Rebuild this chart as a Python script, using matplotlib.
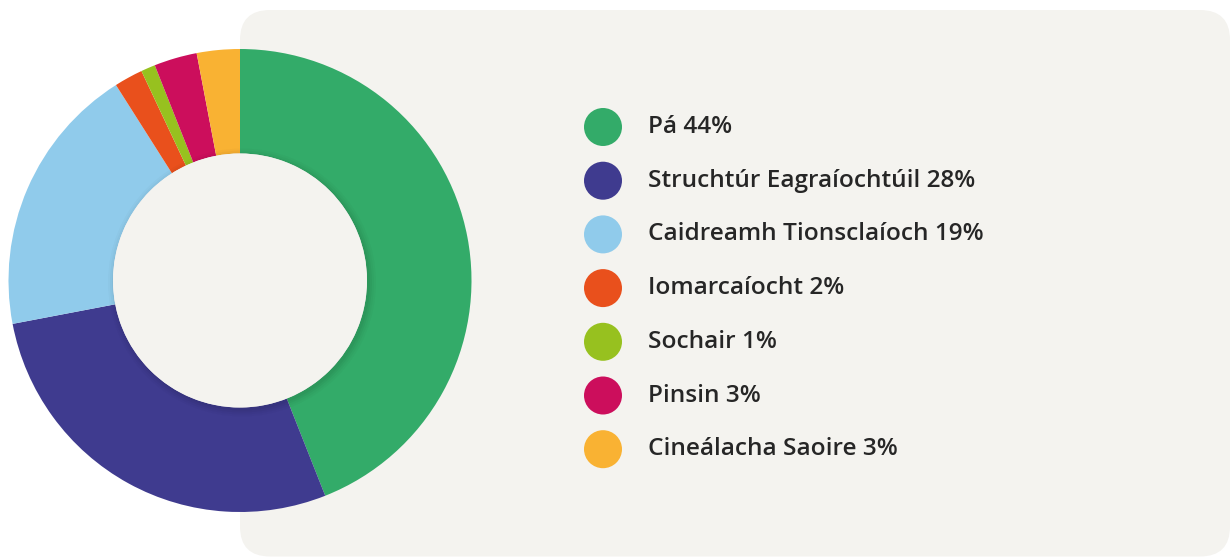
import matplotlib
matplotlib.use("Agg")
import matplotlib.pyplot as plt
from matplotlib.patches import FancyBboxPatch, Circle

# data
labels = ["Pá", "Struchtúr Eagraíochtúil", "Caidreamh Tionsclaíoch",
          "Iomarcaíocht", "Sochair", "Pinsin", "Cineálacha Saoire"]
values = [44, 28, 19, 2, 1, 3, 3]
colors = ["#33ab69", "#3f3b8f", "#90cbeb", "#e9501c", "#97c11f", "#cc0e5c", "#f9b233"]

W, H = 1231, 558
bg = "#f4f3ef"

fig = plt.figure(figsize=(W / 100, H / 100), dpi=100)
ax = fig.add_axes([0, 0, 1, 1])

# panel behind the legend
panel = FancyBboxPatch((240, 1.5), 990, 546.5,
                       boxstyle="round,pad=0,rounding_size=30",
                       fc=bg, ec="none", zorder=0)
ax.add_patch(panel)

# donut
cx, cy = 240, H - 280.5
r_out, r_in = 231.5, 127
ax.pie(values, colors=colors, startangle=90, counterclock=False,
       center=(cx, cy), radius=r_out, frame=True,
       wedgeprops=dict(width=r_out - r_in, linewidth=0))

# soft shadow of the hole onto the ring
for i, a in enumerate([0.02, 0.025, 0.03, 0.035]):
    ax.add_patch(Circle((cx + 2, cy - 2), r_in + 7 - 2 * i, fc="black",
                        ec="none", alpha=a, zorder=3))
ax.add_patch(Circle((cx, cy), r_in, fc=bg, ec="none", zorder=4))

# legend
y0, dy = 127, 53.7
for i, (lab, val, col) in enumerate(zip(labels, values, colors)):
    y = H - (y0 + i * dy)
    ax.add_patch(Circle((603, y), 19, fc=col, ec="none", zorder=5))
    ax.text(648, y, f"{lab} {val}%", ha="left", va="center",
            fontsize=17.6, fontfamily="Open Sans", fontweight="semibold",
            color="#262626", zorder=5)

ax.set_xlim(0, W)
ax.set_ylim(0, H)
ax.set_aspect("auto")
ax.axis("off")

fig.savefig("out.png", dpi=100, facecolor="white")
